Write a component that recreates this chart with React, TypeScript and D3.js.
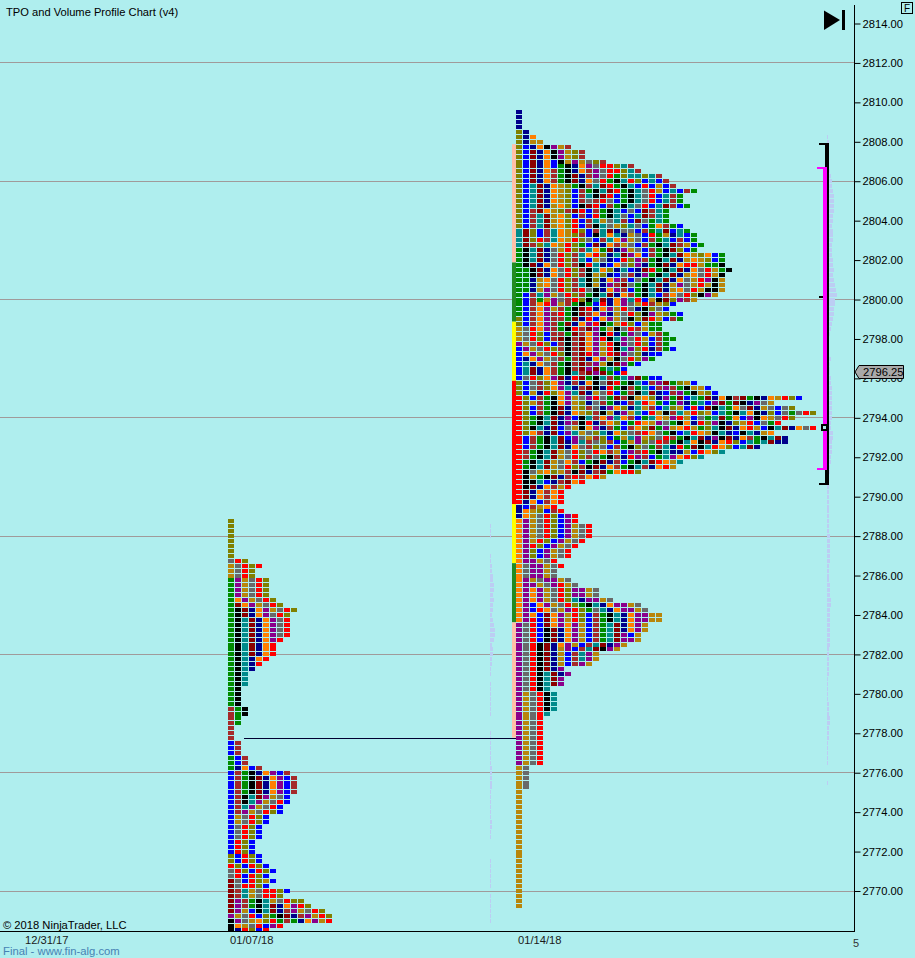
import { useEffect, useRef } from 'react';
import * as d3 from 'd3';

// one letter per TPO period
const tpoColors: Record<string, string> = {
    K: '#000000', N: '#00008b', B: '#0000ff', R: '#ff0000', D: '#8b0000', W: '#a52a2a',
    G: '#008b00', T: '#008b8b', P: '#8b008b', O: '#ff8000', Y: '#b8860b', L: '#808000', S: '#696969',
};

const sessions = ['12/31/17', '01/07/18', '01/14/18'];
const priceTicks = d3.range(2770, 2815, 2);
const gridPrices = [2812, 2806, 2800, 2794, 2788, 2782, 2776, 2770];

const leftTop = 2788.75;
const leftRows = [
    'L', 'L', 'L', 'L', 'L', 'L', 'L', 'L', 'SRL', 'YSRLR', 'YSRL', 'YSRL',
    'GPYSR L', 'GPYSR L', 'GPYSR L', 'GPYSR L', 'GOPYS RL', 'GDOPY SRL', 'GKDNO PYSRL', 'GKDNO PSRL',
    'GKTDN OPSR', 'GKTDN OPSR', 'GKTDN OPSR', 'GKTDN OPSR', 'GKTDN OPR', 'GKTDN OR', 'GKTDN OR', 'GKTDN OR',
    'GKTNO R', 'GKTNR', 'GKTN', 'GKT', 'GKT', 'GKT', 'GK', 'GK', 'GK', 'GK', 'WGK', 'WGK', 'WG', 'WG', 'W',
    'W', 'W', 'BW', 'BW', 'BW', 'GBW', 'GBW', 'GNOBW', 'BWGKN OPBW',
    'BWGKD NOPBW', 'BWGKD NOPBW', 'BWGKD NOPBW', 'BWGKD NOPBW', 'BWKTD PYSB', 'BWKTP YSRB', 'BWTPY SRB', 'BWPYS RLB',
    'BYSRL B', 'BYSRL B', 'BSRLB', 'BSRLB', 'BSRLB', 'BRLB', 'BRLB', 'BRLB', 'LBRLB', 'LBRLB',
    'RLBRL B', 'SRLBR LB', 'SRBRL B', 'DSBRL YB', 'DSRRL B', 'DWTYS RRLB', 'DWTYS RRL', 'DPWGK TYSRL L',
    'DPWGK TDNOP RL', 'DPYBK TDNWP YSRL', 'PYSRB LGKDN WPYRL', 'KPSYO LRGWG NOPYR', 'KOYSR BPR', 'KNRLB R',
];

const rightTop = 2809.5;
const rightRows = [
    'N', 'N', 'N', 'N', 'LN', 'LNO', 'LNYY', 'LBNOK PYW', 'LBDNO KPYLW', 'LBDNO KPYLW',
    'LBDNO BKYPY SLW', 'LBDNO BGKNO PSRRL TW', 'LBDNO WGKNO WPSRR LTW', 'LBDNO WGKDN WPSRG LTTLT W',
    'LBDNO WGKDN OSRGK TRLBT BW', 'LBTDN OYLGK WTDRG KTBRB YBW', 'LBTDN OYLBW GKTDR GKTSR YBTBW G',
    'LBTDN OYLBW TKDRB GKTSR BTWG', 'LBTDN OYLBW SWRSB GKTSR BTWG', 'LBTDN YOLBK DRBWG KTSRB TDWBG',
    'LBWDO YLWDR BWGKT BSBDW TG', 'LBWTD YOLBW BRGKT SBTDW TG', 'LBWTD YOLRB WTYST WBDSG TG',
    'LBWTD YOLRB WKTSY LTSBG OWGB', 'TDLBW TOYRL BWTDN SSBWG TDBTG', 'TDLBW TOYLW BKTOT NYSBR GYNTB G',
    'TDLRW TOYRL SBWTO PYSBW GTBWB G', 'TDWLT OYRLG BDNOW YSBWG KTDWY BG', 'GKTDN SYRLW TOGDN PYSBW GKDLB G',
    'GKTDN SRLWT ORLNT DPOBW GKTDO YLOBG', 'GKTDN SRLWT BYSNB RLPWG KTDNY OYLBG', 'GKDNO SRLWK RTNBO SLPNG KDNOR RYGGK',
    'GGKDN OSRLW KTOLN TBNDR GKTDN OSRYG K', 'GGKDN OSRLW KYLNB SWNPG KTDNY OSRYK', 'GGNYO SRLWT KLNOP WBSGK TDNOS YRPKY',
    'GGNYO SRLWT KYNPW DSGKT DNYPS YRYKY', 'GGNYP SRLWR SKNOP WBGKT DNYOS RYKKY', 'GBWTP YSRLW GKTDN OWGKT BWOSR LKPY',
    'GBWGY PSWRL KTDNO PTRBY KDLPW Y', 'GBWOR PYWGK GBRNO PSYRW YLB', 'GBWOP YWGKD RNOPY RSNKL SB',
    'GBWOP WRGKD WOPNY SRLKP YLGB', 'LBWOP WWGDN RBOPY SKLDR YBWG', 'LBWOP WGDNO PRKGY RLBYG G',
    'YSROP WGKRW DPGYK SRWYG G', 'YSRLB WWGDW OPKRN GPSBY WG', 'YSRLB WDKWD OPRKT PSRYB WGG',
    'PYSRL BWKWD OPYRK PSRLB WG', 'BPYSR LWKWD OPYRK TPLRN WGB', 'BOPYS RLKWD RPYRD PSLNB B',
    'BNOPY SWGWD NOPYK SRLPG', 'BTNOS WGKWD WPYKD PGB', 'BTDNO WGKWD PDGTG B', 'BTDNO WGKTW DPDGB R',
    'BSRLO PDNRD GKTWG TPDGB B', 'LBSWL OPNWN OKSDR GKTBW PDGLY B', 'LBSWL OPTNW DKNRG KWGTB WPWGK YYB',
    'LBYNR LOPTD NYSRB GWKTD NBWPG KYLB', 'RLBWG KOPYS PRSGD WKYOL NPGDB TGDNO KWDGK NOYRL B',
    'RLYWG KOPYL NSWGN BWTRO GBGPN GTBPD GDKNP SY', 'RLBWG KDNYL WSNPO LNTYW BTLYB RBDKT GOSDN YSBSL',
    'RLBWG KDNOY LWKYN PYTBR YKWTY RLYBT GKTOK NLBSG SRL', 'RLGKT DNPBK TWOPT OWBGT OYPRY BSGTD GOBPK OYSRL',
    'RLGKT DNPWK RNWOL BGROY PSGKO NRLPK NLYRB SGR', 'RLKTN DBSYK OPNWG BWOLD GPYOR YGLTK DNORY BKTDN OSR',
    'RLOWN DBPTY SLTNO LSWRO SGKBT ROYKT NBKTN YO', 'RBWGK TDBPS YWLBG YTPYL SRWGK TDNPK DNOWG KTDN',
    'RBWGK TDNPT WSLWB GYPLS RWGKT OKDNO RLBTG TDNN', 'RBWGK TDNOS WLSBW GKLSG WTNRG DKTRO LBTDN',
    'RWGKT DYSRL SROWY BPWRG KTNNY BROLT', 'RWGKT DYSRL WSGKW NRPWB GTPOR LT', 'RGKTD YSOWB GKDNW BGKTD ROYT',
    'RGKTD YSRLW KDNOW GKTWN ORY', 'RKSYO LYWKD NWDGO RRL', 'RKYGK DNWRW ORY', 'RKKTB NWDOR', 'RKDNO WYR',
    'RDNOW OR', 'RDNOW OR', 'RNOBW OR', 'NBWYO R', 'NOYLB WR', 'NOYSR LBPR', 'OPYSR LBPR',
    'OPYSR LBPYS R', 'OPYSR LBPYS R', 'OPYSR LBPYS R', 'OPYRL BPYSR', 'OPRLB PYSR', 'OPLBP YSR', 'OPLBP YSR',
    'OPPYS R', 'OSPPY SR', 'OSPPY S', 'OSPPY S', 'OPYSP PYS', 'OPPYS PRYS', 'OPOPY SRLPP YS', 'OPOPY SRLPP YS',
    'OPOPY SRLTN PPYS', 'OPBOP YSRLG KTNOP PYS', 'OPBRO SYPRL GSTNO PPYS', 'OPOBD OPYRL BWGKT NOPPY Y',
    'OPRBD OPYRL BWGKT NOPPY Y', 'PSRBD OPOPY BWGTD NOPY', 'PSRBK DNOPY BWGTD NOPY', 'PSRBK DNOPY BWGTD PBY',
    'PSRBK DNOPY BWGTD PPY', 'PSRKD NOPYB WTDNP Y', 'PSRKD NYPBW TDKPY', 'PSRKD NYBWT PY', 'PSRKD NYBWT PY',
    'PSRKD NYBWP Y', 'PSRKD NP', 'PSRKT DNP', 'PSRKT DP', 'PSRKT DP', 'PSRKT', 'PYSRK T', 'PYSRK T', 'PYSRK T',
    'PYSRK T', 'PYSRT', 'PYSR', 'PYSR', 'PYSR', 'PYSR', 'PYSR', 'PYSR', 'PYSR', 'PYSR', 'PYSR', 'PYSR',
    'YS', 'YS', 'YS', 'YS', 'YS', 'Y', 'Y', 'Y', 'Y', 'Y', 'Y', 'Y', 'Y', 'Y', 'Y', 'Y', 'Y', 'Y', 'Y', 'Y', 'Y', 'Y',
    'Y', 'Y', 'Y', 'Y', 'Y', 'Y', 'Y',
];

// period strip next to the 01/14 profile
const stripColors = ['#ffc0a8', '#228b22', '#ffff00', '#ff0000', '#ffff00', '#228b22', '#ffc0a8'];
const stripEdges = [2807.75, 2801.75, 2798.75, 2795.75, 2789.5, 2786.5, 2783.5, 2777.65];

// volume profiles
const leftVolTop = 2788.5;
const leftVol = [
    1, 1, 1, 0, 0, 0, 1, 1, 2, 2, 3, 3, 4, 4, 3, 4, 3, 3, 2, 3, 4, 5, 5, 4, 2, 3, 3, 2, 2, 1, 1, 0,
    1, 1, 1, 1, 1, 1, 1, 0, 0, 0, 1, 1, 1, 1, 1, 1, 1, 2, 2, 2, 2, 2, 1, 1, 1, 1, 1, 1, 2, 2, 1, 1,
    0, 0, 0, 0, 1, 1, 1, 1, 1, 1, 0, 1, 1, 1, 1, 1, 1,
];
const rightVolTop = 2808.25;
const rightVol = [
    1, 2, 2, 2, 2, 2, 2, 3, 4, 5, 5, 6, 7, 7, 7, 7, 6, 6, 5, 6, 6, 6, 5, 5, 5, 6, 6, 7, 6, 7, 8, 9, 10, 8, 8, 7, 7,
    6, 5, 4, 3, 2, 2, 2, 2, 4, 3, 3, 3, 4, 4, 5, 5, 5, 5, 5, 5, 5, 4, 4, 6, 6, 5, 5, 5, 4, 4, 3, 3, 2, 1,
    2, 2, 2, 2, 2, 2, 2, 2, 2, 2, 3, 3, 3, 3, 3, 3, 2, 2, 2, 2, 3, 3, 3, 4, 4, 3, 3, 3, 3, 3, 3, 3, 3,
    2, 2, 2, 2, 2, 2, 1, 1, 1, 1, 1, 2, 2, 2, 3, 3, 2, 2, 2, 1, 1, 1, 1, 1, 0, 0, 0, 1,
];

const valueHigh = 2806.75;
const valueLow = 2791.5;
const rangeHigh = 2808;
const rangeLow = 2790.75;
const pocPrice = 2793.5;
const oldPocPrice = 2800.25;
const nakedPoc = 2777.75;
const lastPrice = 2796.25;

export default function App() {
    const svgRef = useRef<SVGSVGElement>(null);

    useEffect(() => {
        if (!svgRef.current) return;
        const W = 915;
        const H = 958;
        const axisX = 854;
        const axisY = 931;
        const cellW = 6;
        const cellH = 4;
        const font = '"Liberation Sans", Arial, sans-serif';

        const svg = d3.select(svgRef.current);
        svg.selectAll('*').remove();

        const y = d3.scaleLinear().domain([2770, 2814]).range([891, 23.5]);
        const sessionX = d3.scaleOrdinal<string, number>().domain(sessions).range([23, 228, 516]);
        const col = d3.scaleLinear().domain([0, 1]).range([0, 7]);

        svg.append('rect').attr('width', W).attr('height', H).attr('fill', '#afeeee');

        svg.append('defs').append('clipPath').attr('id', 'plot')
            .append('rect').attr('width', axisX).attr('height', axisY);
        const plot = svg.append('g').attr('clip-path', 'url(#plot)');

        // Gridlines
        plot.selectAll('.grid')
            .data(gridPrices)
            .join('line')
            .attr('class', 'grid')
            .attr('x1', 0).attr('x2', axisX)
            .attr('y1', d => Math.floor(y(d)) + 0.5).attr('y2', d => Math.floor(y(d)) + 0.5)
            .attr('stroke', '#a09a9a').attr('stroke-width', 1);

        // Volume profiles
        const drawVol = (vals: number[], top: number, base: number) => {
            plot.append('g').selectAll('rect')
                .data(vals.map((v, i) => ({ v, p: top - i * 0.25 })).filter(d => d.v > 0))
                .join('rect')
                .attr('x', base)
                .attr('y', d => Math.round(y(d.p) - 2))
                .attr('width', d => d.v)
                .attr('height', 4)
                .attr('fill', '#bccdf3');
        };
        drawVol(leftVol, leftVolTop, 490);
        drawVol(rightVol, rightVolTop, 827);

        // Period strip
        plot.selectAll('.strip')
            .data(stripColors)
            .join('rect')
            .attr('class', 'strip')
            .attr('x', sessionX(sessions[2]) - 4).attr('width', 4)
            .attr('y', (_, i) => y(stripEdges[i]) - 2.5)
            .attr('height', (_, i) => y(stripEdges[i + 1]) - y(stripEdges[i]))
            .attr('fill', d => d);

        // TPO cells
        const drawProfile = (rows: string[], top: number, x0: number) => {
            const cells = rows.flatMap((row, i) =>
                row.replace(/ /g, '').split('').map((c, j) => ({ c, j, p: top - i * 0.25 })));
            plot.append('g').attr('shape-rendering', 'crispEdges').selectAll('rect')
                .data(cells)
                .join('rect')
                .attr('x', d => x0 + col(d.j))
                .attr('y', d => Math.round(y(d.p) - cellH / 2))
                .attr('width', cellW).attr('height', cellH)
                .attr('fill', d => tpoColors[d.c]);
        };
        drawProfile(leftRows, leftTop, sessionX(sessions[1]));
        drawProfile(rightRows, rightTop, sessionX(sessions[2]));

        // Naked POC from the previous session
        plot.append('line')
            .attr('x1', sessionX(sessions[1]) + 16).attr('x2', sessionX(sessions[2]))
            .attr('y1', Math.round(y(nakedPoc)) + 0.5).attr('y2', Math.round(y(nakedPoc)) + 0.5)
            .attr('stroke', '#000030');

        // Range and value area brackets
        const brk = plot.append('g').attr('transform', 'translate(0,1)').attr('shape-rendering', 'crispEdges');
        brk.append('rect').attr('x', 825).attr('width', 4).attr('y', y(rangeHigh)).attr('height', y(rangeLow) - y(rangeHigh) + 2).attr('fill', '#000');
        brk.append('rect').attr('x', 819).attr('width', 10).attr('y', y(rangeHigh)).attr('height', 2).attr('fill', '#000');
        brk.append('rect').attr('x', 819).attr('width', 10).attr('y', y(rangeLow)).attr('height', 2).attr('fill', '#000');
        brk.append('rect').attr('x', 819).attr('width', 5).attr('y', y(oldPocPrice)).attr('height', 2).attr('fill', '#000');
        brk.append('rect').attr('x', 823).attr('width', 4).attr('y', y(valueHigh)).attr('height', y(valueLow) - y(valueHigh) + 2).attr('fill', '#ff00ff');
        brk.append('rect').attr('x', 817).attr('width', 8).attr('y', y(valueHigh)).attr('height', 2).attr('fill', '#ff00ff');
        brk.append('rect').attr('x', 817).attr('width', 8).attr('y', y(valueLow)).attr('height', 2).attr('fill', '#ff00ff');
        brk.append('rect').attr('x', 821.5).attr('y', y(pocPrice) - 3.5).attr('width', 5).attr('height', 5)
            .attr('fill', '#afeeee').attr('stroke', '#000').attr('stroke-width', 2);

        // Axes
        const yAxis = d3.axisRight(y).tickValues(priceTicks).tickSize(6).tickPadding(2).tickFormat(d3.format('.2f') as any);
        const ax = svg.append('g').attr('transform', `translate(${axisX + 0.5},0)`).call(yAxis);
        ax.select('.domain').remove();
        ax.selectAll('line').attr('stroke', '#000');
        ax.selectAll('text').attr('font-family', font).attr('font-size', 11.2).attr('fill', '#000');
        svg.append('line').attr('x1', axisX + 0.5).attr('x2', axisX + 0.5).attr('y1', 5).attr('y2', axisY + 1).attr('stroke', '#000');
        svg.append('line').attr('x1', 0).attr('x2', axisX).attr('y1', axisY + 0.5).attr('y2', axisY + 0.5).attr('stroke', '#000');

        svg.append('g').selectAll('text')
            .data(sessions)
            .join('text')
            .attr('x', d => sessionX(d) + 2)
            .attr('y', 944)
            .attr('font-family', font).attr('font-size', 11.2).attr('fill', '#1a1a1a')
            .text(d => d);

        // Last price marker
        const my = Math.round(y(lastPrice)) - 1;
        const marker = d3.line()([[855, my], [859, my - 6.5], [903.5, my - 6.5], [903.5, my + 6.5], [859, my + 6.5]]);
        svg.append('path').attr('d', marker + 'Z').attr('fill', '#a9a9a9').attr('stroke', '#000');
        svg.append('text').attr('x', 863).attr('y', my + 4).attr('font-family', font).attr('font-size', 11.2).attr('fill', '#000').text(lastPrice.toFixed(2));

        // Text and chrome
        svg.append('text').attr('x', 6).attr('y', 16).attr('font-family', font).attr('font-size', 11.15).attr('fill', '#000').text('TPO and Volume Profile Chart (v4)');
        svg.append('text').attr('x', 3).attr('y', 929).attr('font-family', font).attr('font-size', 11.2).attr('fill', '#000').text('© 2018 NinjaTrader, LLC');
        svg.append('text').attr('x', 3).attr('y', 955).attr('font-family', font).attr('font-size', 11.3).attr('fill', '#4682b4').text('Final - www.fin-alg.com');
        svg.append('text').attr('x', 853).attr('y', 947).attr('font-family', font).attr('font-size', 11).attr('fill', '#333').text('5');

        svg.append('path').attr('d', 'M824,10.5L840,20L824,30Z').attr('fill', '#000');
        svg.append('rect').attr('x', 842).attr('y', 10).attr('width', 3).attr('height', 20).attr('fill', '#000');
        svg.append('rect').attr('x', 901.5).attr('y', 2.5).attr('width', 11).attr('height', 11).attr('fill', 'none').attr('stroke', '#000');
        svg.append('text').attr('x', 907).attr('y', 12).attr('text-anchor', 'middle').attr('font-family', font).attr('font-size', 10).attr('fill', '#000').text('F');
    }, []);

    return <svg ref={svgRef} width={915} height={958} style={{ position: 'absolute', left: 0, top: 0, display: 'block' }} />;
}
